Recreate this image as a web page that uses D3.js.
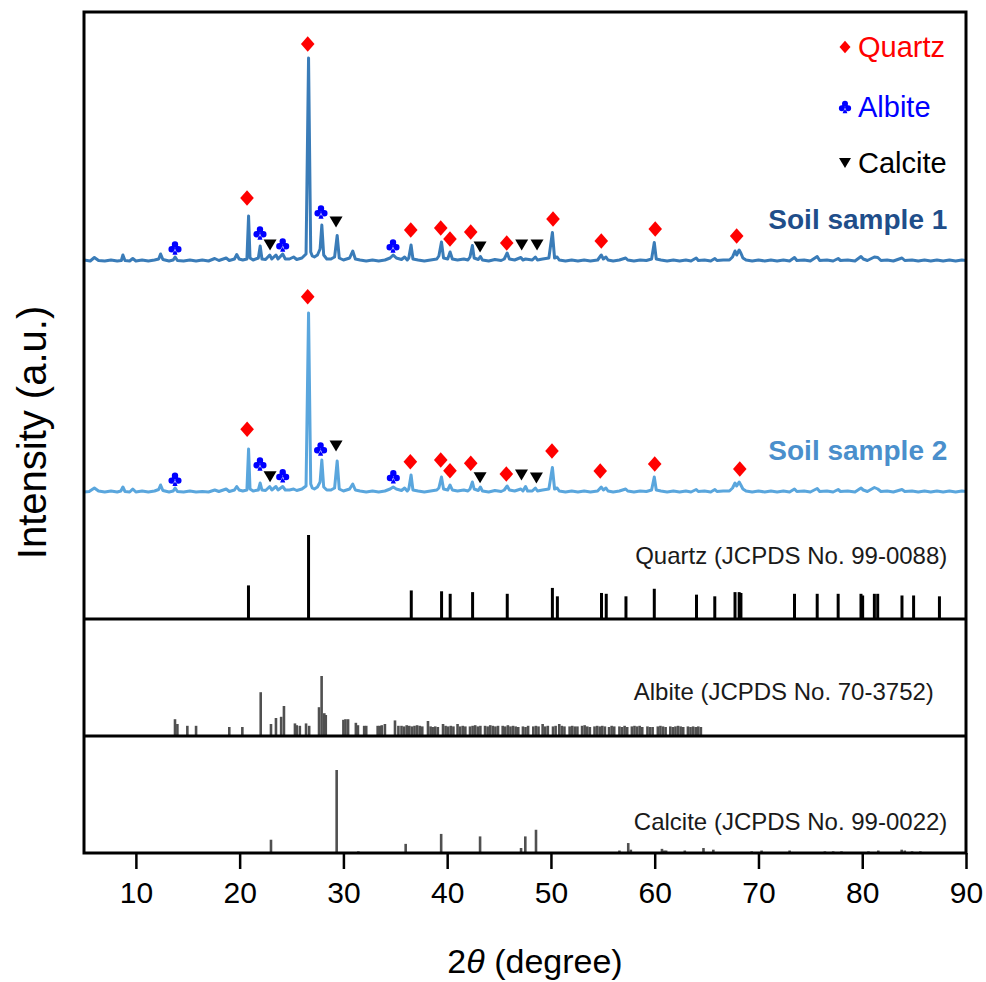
<!DOCTYPE html>
<html>
<head>
<meta charset="utf-8">
<script src="https://cdn.jsdelivr.net/npm/d3@7"></script>
<style>
  html, body { margin: 0; padding: 0; background: #fff; }
  svg text { font-family: Arial, "Liberation Sans", sans-serif; }
</style>
</head>
<body>
<div id="xrd"></div>
<script>
// 2theta ticks
var tickVals = [10, 20, 30, 40, 50, 60, 70, 80, 90];

// measured patterns, [2theta, counts above baseline]
var soil1 = [
  [5.0, 10], [5.6, 0], [6.0, 35], [6.4, 5], [7.0, 0], [7.6, 10], [8.2, 0], [8.6, 5], [8.75, 60], [8.95, 5],
  [9.4, 0], [9.7, 25], [10.0, 0], [10.6, 10], [11.2, 0], [11.8, 10], [12.2, 20], [12.38, 70], [12.6, 15],
  [13.2, 0], [13.6, 10], [13.78, 40], [14.0, 5], [14.6, 0], [15.2, 10], [15.8, 0], [16.4, 10], [17.0, 0],
  [17.6, 25], [18.0, 5], [18.7, 30], [19.0, 5], [19.5, 20], [19.72, 65], [19.95, 20], [20.3, 10], [20.7, 20],
  [20.86, 450], [21.0, 30], [21.3, 10], [21.8, 30], [21.98, 150], [22.15, 20], [22.5, 15], [22.9, 60],
  [23.1, 20], [23.5, 60], [23.7, 20], [24.15, 70], [24.4, 20], [24.8, 20], [25.2, 40], [25.5, 15], [26.0, 30],
  [26.4, 70], [26.64, 2030], [26.85, 90], [27.0, 50], [27.2, 40], [27.5, 60], [27.75, 120], [27.92, 360],
  [28.1, 60], [28.4, 20], [28.8, 20], [29.15, 40], [29.4, 255], [29.6, 30], [30.0, 10], [30.6, 30], [30.9, 100],
  [31.15, 20], [31.6, 10], [32.2, 0], [32.8, 10], [33.4, 0], [34.0, 10], [34.5, 30], [34.8, 60], [35.1, 30],
  [35.6, 15], [35.9, 40], [36.15, 10], [36.3, 30], [36.52, 160], [36.7, 20], [37.2, 10], [37.8, 0], [38.4, 10],
  [39.0, 20], [39.2, 50], [39.45, 190], [39.65, 30], [40.05, 20], [40.28, 90], [40.5, 20], [41.0, 10],
  [41.6, 20], [42.0, 10], [42.2, 40], [42.43, 155], [42.6, 30], [43.0, 15], [43.2, 45], [43.4, 10], [44.0, 0],
  [44.6, 15], [45.2, 5], [45.5, 20], [45.78, 80], [46.0, 20], [46.5, 10], [47.1, 35], [47.3, 10], [47.55, 20],
  [48.2, 10], [48.5, 40], [48.7, 10], [49.2, 20], [49.8, 30], [50.14, 285], [50.35, 30], [50.6, 40], [50.8, 10],
  [51.4, 0], [52.0, 10], [52.6, 0], [53.2, 10], [53.8, 0], [54.5, 10], [54.85, 60], [55.05, 20], [55.3, 40],
  [55.5, 10], [56.0, 0], [56.6, 10], [57.2, 30], [57.4, 10], [58.0, 0], [58.6, 10], [59.2, 5], [59.7, 20],
  [59.96, 185], [60.15, 20], [60.6, 10], [61.2, 0], [61.8, 10], [62.4, 0], [63.0, 10], [63.5, 0], [64.0, 30],
  [64.2, 5], [64.8, 10], [65.4, 0], [65.8, 25], [66.0, 5], [66.6, 10], [67.2, 10], [67.5, 40], [67.74, 100],
  [67.9, 60], [68.14, 110], [68.3, 80], [68.5, 30], [68.8, 10], [69.4, 0], [70.0, 10], [70.6, 0], [71.2, 10],
  [71.8, 0], [72.4, 10], [73.0, 0], [73.47, 35], [73.7, 5], [74.4, 10], [75.0, 0], [75.66, 45], [75.9, 5],
  [76.6, 10], [77.2, 0], [77.68, 25], [77.9, 5], [78.6, 10], [79.3, 0], [79.88, 45], [80.1, 20], [80.5, 5],
  [81.17, 40], [81.5, 35], [81.8, 5], [82.4, 10], [83.0, 0], [83.83, 30], [84.1, 5], [84.8, 10], [85.4, 0],
  [86.0, 10], [86.6, 0], [87.2, 10], [87.8, 0], [88.4, 10], [89.0, 0], [89.6, 10], [90.0, 5]
];

var soil2 = [
  [5.0, 0], [5.5, 5], [6.0, 40], [6.4, 10], [7.0, 0], [7.6, 10], [8.2, 0], [8.55, 10], [8.75, 50], [8.95, 5],
  [9.4, 0], [9.7, 30], [10.0, 0], [10.6, 10], [11.2, 0], [11.8, 10], [12.2, 25], [12.38, 70], [12.6, 15],
  [13.2, 0], [13.6, 10], [13.78, 40], [14.0, 5], [14.6, 0], [15.2, 10], [15.8, 0], [16.4, 5], [17.0, 0],
  [17.6, 20], [18.0, 5], [18.7, 30], [19.0, 5], [19.5, 20], [19.72, 55], [19.95, 20], [20.3, 10], [20.7, 20],
  [20.86, 430], [21.0, 30], [21.3, 10], [21.8, 20], [21.98, 90], [22.15, 20], [22.5, 15], [22.9, 55],
  [23.1, 20], [23.5, 55], [23.7, 20], [24.15, 55], [24.4, 20], [24.8, 20], [25.2, 30], [25.5, 15], [26.0, 30],
  [26.4, 60], [26.64, 1790], [26.85, 80], [27.0, 40], [27.2, 30], [27.5, 50], [27.75, 100], [27.92, 320],
  [28.1, 50], [28.4, 20], [28.8, 20], [29.15, 40], [29.4, 310], [29.6, 30], [30.0, 10], [30.6, 30], [30.9, 80],
  [31.15, 20], [31.6, 10], [32.2, 0], [32.8, 10], [33.4, 0], [34.0, 10], [34.5, 30], [34.8, 50], [35.1, 30],
  [35.6, 15], [35.9, 40], [36.15, 10], [36.3, 30], [36.52, 170], [36.7, 20], [37.2, 10], [37.8, 0], [38.4, 10],
  [39.0, 20], [39.2, 40], [39.45, 150], [39.65, 30], [40.05, 20], [40.28, 70], [40.5, 20], [41.0, 10],
  [41.6, 20], [42.0, 10], [42.2, 30], [42.43, 100], [42.6, 30], [43.0, 15], [43.2, 50], [43.4, 10], [44.0, 0],
  [44.6, 15], [45.2, 5], [45.5, 20], [45.78, 60], [46.0, 20], [46.5, 10], [47.1, 30], [47.3, 10], [47.55, 55],
  [47.75, 10], [48.2, 10], [48.5, 40], [48.7, 10], [49.2, 20], [49.8, 30], [50.14, 245], [50.35, 30],
  [50.6, 40], [50.8, 10], [51.4, 0], [52.0, 10], [52.6, 0], [53.2, 10], [53.8, 0], [54.5, 10], [54.85, 50],
  [55.05, 20], [55.3, 40], [55.5, 10], [56.0, 0], [56.6, 10], [57.2, 30], [57.4, 10], [58.0, 0], [58.6, 10],
  [59.2, 5], [59.7, 20], [59.96, 150], [60.15, 20], [60.6, 10], [61.2, 0], [61.8, 10], [62.4, 0], [63.0, 10],
  [63.5, 0], [64.0, 25], [64.2, 5], [64.8, 10], [65.4, 0], [65.8, 25], [66.0, 5], [66.6, 10], [67.2, 10],
  [67.5, 40], [67.74, 90], [67.9, 60], [68.14, 100], [68.3, 70], [68.5, 30], [68.8, 10], [69.4, 0], [70.0, 10],
  [70.6, 0], [71.2, 10], [71.8, 0], [72.4, 10], [73.0, 0], [73.47, 30], [73.7, 5], [74.4, 10], [75.0, 0],
  [75.66, 35], [75.9, 5], [76.6, 10], [77.2, 0], [77.68, 25], [77.9, 5], [78.6, 10], [79.3, 0], [79.88, 40],
  [80.1, 20], [80.5, 5], [81.17, 45], [81.5, 30], [81.8, 5], [82.4, 10], [83.0, 0], [83.83, 25], [84.1, 5],
  [84.8, 10], [85.4, 0], [86.0, 10], [86.6, 0], [87.2, 10], [87.8, 0], [88.4, 10], [89.0, 0], [89.6, 10], [90.0, 5]
];

// vertical offsets of the two measured patterns (counts)
var soilOffsets = [3580, 1270];
var soilNames = ["Soil sample 1", "Soil sample 2"];

// phase markers, [2theta, counts above baseline]
var quartzMarks1 = [[20.71, 630], [26.56, 2170], [36.49, 310], [39.38, 330], [40.27, 220], [42.27, 290],
  [45.74, 180], [50.2, 420], [54.85, 200], [60.05, 320], [67.9, 250]];
var albiteMarks1 = [[13.77, 130], [21.96, 280], [24.15, 160], [27.84, 490], [34.78, 150]];
var calciteMarks1 = [[22.93, 160], [29.29, 390], [43.17, 140], [47.18, 160], [48.66, 160]];

var quartzMarks2 = [[20.72, 627], [26.56, 1953], [36.45, 303], [39.38, 320], [40.27, 213], [42.27, 287],
  [45.7, 180], [50.1, 410], [54.75, 210], [60.0, 280], [68.2, 230]];
var albiteMarks2 = [[13.77, 127], [21.96, 280], [24.15, 163], [27.8, 430], [34.81, 153]];
var calciteMarks2 = [[22.93, 153], [29.29, 460], [43.17, 143], [47.16, 170], [48.6, 140]];

// reference patterns, [2theta, relative intensity]
var quartzRef = [[20.85, 40], [26.64, 100], [36.54, 34], [39.46, 33], [40.29, 30], [42.45, 32], [45.79, 30],
  [50.14, 37], [50.62, 27], [54.87, 31], [55.33, 30], [57.23, 27], [59.96, 36], [64.03, 29], [65.79, 27],
  [67.74, 32], [68.14, 32], [68.31, 31], [73.47, 30], [75.66, 30], [77.68, 30], [79.88, 30], [80.04, 28],
  [81.17, 30], [81.49, 30], [83.83, 28], [84.95, 28], [87.44, 27]];

var albiteRef = [[13.77, 28], [14.0, 20], [14.96, 17], [15.8, 17], [19.0, 15], [20.26, 15], [22.03, 73],
  [23.02, 20], [23.5, 30], [24.0, 32], [24.27, 50], [25.33, 21], [25.5, 18], [25.8, 17], [26.4, 21], [26.7, 17],
  [27.65, 48], [27.9, 100], [28.16, 38], [28.3, 35], [30.0, 27], [30.2, 28], [30.45, 28], [31.2, 22], [31.4, 18],
  [32.0, 17], [32.2, 17], [33.3, 17], [33.5, 17], [33.7, 18], [34.0, 20], [34.97, 26], [35.3, 17], [35.6, 17],
  [35.85, 16], [36.1, 18], [36.35, 17], [36.6, 16], [36.85, 17], [37.1, 18], [37.35, 17], [37.6, 16],
  [38.15, 25], [38.4, 16], [38.6, 15], [38.85, 16], [39.1, 15], [39.6, 20], [39.85, 17], [40.1, 16],
  [40.35, 17], [40.6, 16], [41.0, 20], [41.25, 16], [41.5, 17], [41.75, 16], [42.2, 16], [42.45, 17],
  [42.7, 18], [42.95, 16], [43.2, 17], [43.65, 17], [43.9, 16], [44.15, 18], [44.4, 17], [44.65, 16],
  [44.9, 17], [45.35, 17], [45.6, 16], [45.85, 18], [46.1, 16], [46.35, 17], [46.6, 16], [46.85, 15],
  [47.3, 16], [47.55, 15], [47.8, 17], [48.3, 16], [48.55, 17], [48.8, 16], [49.2, 20], [49.45, 16],
  [49.7, 17], [50.2, 16], [50.45, 17], [50.8, 20], [51.05, 17], [51.3, 16], [51.8, 16], [52.05, 17],
  [52.3, 16], [52.55, 16], [53.0, 17], [53.25, 18], [53.5, 16], [53.75, 15], [54.2, 16], [54.45, 17],
  [54.7, 16], [54.95, 17], [55.2, 16], [55.6, 15], [55.85, 17], [56.1, 16], [56.6, 16], [56.85, 15],
  [57.1, 17], [57.35, 15], [57.8, 16], [58.05, 17], [58.3, 16], [58.55, 17], [58.8, 15], [59.3, 16],
  [59.55, 15], [59.8, 15], [60.3, 16], [60.55, 17], [60.8, 16], [61.05, 15], [61.5, 16], [61.75, 15],
  [62.0, 16], [62.25, 17], [62.5, 16], [62.75, 15], [63.2, 16], [63.45, 15], [63.7, 16], [63.95, 15],
  [64.2, 16], [64.45, 15]];

var calciteRef = [[23.02, 16], [29.35, 100], [31.44, 2], [36.0, 11], [39.42, 23], [43.17, 20], [47.12, 6],
  [47.53, 20], [48.56, 28], [56.6, 3], [57.45, 12], [57.7, 4], [60.7, 5], [60.9, 3], [61.1, 3], [62.9, 3],
  [64.7, 6], [65.65, 4], [69.35, 2], [70.3, 3], [73.0, 3], [76.4, 2], [77.2, 2], [78.0, 2], [80.6, 2],
  [81.55, 3], [83.8, 4], [84.1, 3], [84.8, 2], [85.6, 2]];

var refLabels = ["Quartz (JCPDS No. 99-0088)", "Albite (JCPDS No. 70-3752)", "Calcite (JCPDS No. 99-0022)"];
var legendNames = ["Quartz", "Albite", "Calcite"];

// Set up the SVG dimensions
var width = 986, height = 982;
var margin = { top: 12, right: 20, bottom: 129, left: 84 };
var innerW = width - margin.left - margin.right;
var innerH = height - margin.top - margin.bottom;

var svg = d3.select("#xrd").append("svg")
  .attr("width", width)
  .attr("height", height);

// x scale shared by every panel
var x = d3.scaleLinear().domain([5, 90]).range([margin.left, margin.left + innerW]);

// panel boundaries (top panel holds both samples + quartz reference)
var yTopPanel = margin.top;
var yQzBase = 619, yAbBase = 736, yCcBase = margin.top + innerH;

var ySoil = d3.scaleLinear().domain([0, 6070]).range([yQzBase, yTopPanel]);
var yQuartz = d3.scaleLinear().domain([0, 100]).range([yQzBase, yQzBase - 84]);
var yAlbite = d3.scaleLinear().domain([0, 100]).range([yAbBase, yAbBase - 60]);
var yCalcite = d3.scaleLinear().domain([0, 100]).range([yCcBase, yCcBase - 83]);

var lineColors = ["#3a7cb8", "#5aa6dd"];
var labelColors = ["#1f4e8a", "#4a8fcc"];

// symbols
function diamondPath(s) {
  return "M0," + (-s * 1.15) + "L" + s + ",0L0," + (s * 1.15) + "L" + (-s) + ",0Z";
}
function trianglePath(s) {
  return "M" + (-s) + "," + (-s * 0.85) + "L" + s + "," + (-s * 0.85) + "L0," + (s * 0.85) + "Z";
}
function clubPath(r) {
  var p = d3.path();
  [[0, -1.1 * r], [-1.05 * r, 0.4 * r], [1.05 * r, 0.4 * r]].forEach(function (c) {
    p.moveTo(c[0] + r, c[1]);
    p.arc(c[0], c[1], r, 0, 2 * Math.PI);
  });
  p.moveTo(0, 0);
  p.lineTo(-0.8 * r, 2.1 * r);
  p.lineTo(0.8 * r, 2.1 * r);
  p.closePath();
  return p.toString();
}

// measured patterns
var soilLine = d3.line();
[soil1, soil2].forEach(function (data, i) {
  var off = soilOffsets[i];
  svg.append("path")
    .datum(data)
    .attr("fill", "none")
    .attr("stroke", lineColors[i])
    .attr("stroke-width", 3)
    .attr("stroke-linejoin", "round")
    .attr("d", soilLine.x(d => x(d[0])).y(d => ySoil(off + d[1])));
});

// phase markers on each measured pattern
function drawMarks(marks, off, path, color) {
  svg.append("g").selectAll("path")
    .data(marks)
    .enter().append("path")
    .attr("transform", d => "translate(" + x(d[0]) + "," + ySoil(off + d[1]) + ")")
    .attr("d", path)
    .attr("fill", color);
}
drawMarks(quartzMarks1, soilOffsets[0], diamondPath(6.8), "#ff0000");
drawMarks(albiteMarks1, soilOffsets[0], clubPath(3.2), "#0000ff");
drawMarks(calciteMarks1, soilOffsets[0], trianglePath(6.5), "#000000");
drawMarks(quartzMarks2, soilOffsets[1], diamondPath(6.8), "#ff0000");
drawMarks(albiteMarks2, soilOffsets[1], clubPath(3.2), "#0000ff");
drawMarks(calciteMarks2, soilOffsets[1], trianglePath(6.5), "#000000");

// sample names
svg.selectAll("text.soil")
  .data(soilNames)
  .enter().append("text")
  .attr("class", "soil")
  .attr("x", x(88.2))
  .attr("y", (d, i) => ySoil(soilOffsets[i] + 320))
  .attr("text-anchor", "end")
  .attr("font-size", 28)
  .attr("font-weight", "bold")
  .attr("fill", (d, i) => labelColors[i])
  .text(d => d);

// reference sticks
function drawSticks(data, yScale, color, w) {
  svg.append("g").selectAll("line")
    .data(data)
    .enter().append("line")
    .attr("x1", d => x(d[0]))
    .attr("x2", d => x(d[0]))
    .attr("y1", yScale(0))
    .attr("y2", d => yScale(d[1]))
    .attr("stroke", color)
    .attr("stroke-width", w);
}
drawSticks(quartzRef, yQuartz, "#000", 3);
drawSticks(albiteRef, yAlbite, "#505050", 2.6);
drawSticks(calciteRef, yCalcite, "#505050", 2.6);

// reference labels
var refLabelPos = [[88.2, yQzBase - 55], [86.9, yAbBase - 36], [88.2, yCcBase - 23]];
svg.selectAll("text.ref")
  .data(refLabels)
  .enter().append("text")
  .attr("class", "ref")
  .attr("x", (d, i) => x(refLabelPos[i][0]))
  .attr("y", (d, i) => refLabelPos[i][1])
  .attr("text-anchor", "end")
  .attr("font-size", 24)
  .attr("fill", "#1a1a1a")
  .text(d => d);

// legend
var legendColors = ["#ff0000", "#0000ff", "#000000"];
var legendSyms = [diamondPath(5.5), clubPath(3), trianglePath(6)];
var legendY = [47, 107, 163];
var lg = svg.append("g");
legendNames.forEach(function (n, i) {
  lg.append("path")
    .attr("transform", "translate(845," + legendY[i] + ")")
    .attr("d", legendSyms[i])
    .attr("fill", legendColors[i]);
  lg.append("text")
    .attr("x", 858)
    .attr("y", legendY[i])
    .attr("dy", "0.36em")
    .attr("font-size", 29)
    .attr("fill", legendColors[i])
    .text(n);
});

// frame and panel separators
svg.append("rect")
  .attr("x", margin.left)
  .attr("y", margin.top)
  .attr("width", innerW)
  .attr("height", innerH)
  .attr("fill", "none")
  .attr("stroke", "#000")
  .attr("stroke-width", 3);

[yQzBase, yAbBase].forEach(function (yy) {
  svg.append("line")
    .attr("x1", margin.left).attr("x2", margin.left + innerW)
    .attr("y1", yy).attr("y2", yy)
    .attr("stroke", "#000").attr("stroke-width", 3);
});

// x axis
var xAxis = svg.append("g")
  .attr("transform", "translate(0," + yCcBase + ")")
  .call(d3.axisBottom(x).tickValues(tickVals).tickSize(16).tickSizeOuter(0).tickPadding(13));
xAxis.select(".domain").remove();
xAxis.selectAll(".tick line").attr("stroke", "#000").attr("stroke-width", 2.5);
xAxis.selectAll(".tick text")
  .attr("font-size", 30)
  .attr("font-family", "Arial, 'Liberation Sans', sans-serif")
  .attr("fill", "#000");

// axis titles
var xt = svg.append("text")
  .attr("x", margin.left + innerW / 2 + 10)
  .attr("y", 973)
  .attr("text-anchor", "middle")
  .attr("font-size", 34)
  .attr("fill", "#000");
xt.append("tspan").text("2");
xt.append("tspan").attr("font-style", "italic").text("θ");
xt.append("tspan").text(" (degree)");

svg.append("text")
  .attr("transform", "rotate(-90)")
  .attr("x", -(margin.top + innerH / 2))
  .attr("y", 46)
  .attr("text-anchor", "middle")
  .attr("font-size", 40)
  .attr("fill", "#000")
  .text("Intensity (a.u.)");
</script>
</body>
</html>
